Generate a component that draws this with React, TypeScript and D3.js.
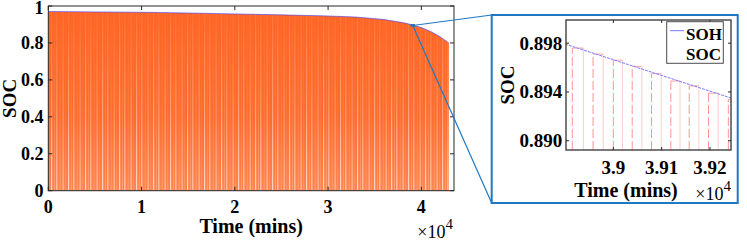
import React from "react";
import * as d3 from "d3";

// SOH envelope (time in minutes)
const sohTime = [0, 5000, 10000, 15000, 20000, 25000, 30000, 33000, 36000, 38000, 39000, 40000, 41000, 42000, 42950];
const sohValue = [0.970, 0.968, 0.966, 0.962, 0.957, 0.952, 0.946, 0.940, 0.927, 0.910, 0.898, 0.883, 0.862, 0.834, 0.800];

const mainXTicks = [0, 10000, 20000, 30000, 40000];
const mainXTickLabels = ["0", "1", "2", "3", "4"];
const mainYTicks = [0, 0.2, 0.4, 0.6, 0.8, 1];
const mainYTickLabels = ["0", "0.2", "0.4", "0.6", "0.8", "1"];

// zoomed window
const insetTime = [38900, 39250];
const insetSoh = [0.89793, 0.89342];
const chargeTime = [38915, 38958, 39000, 39039, 39079, 39119, 39157, 39197, 39238];
const dischargeTime = [38938, 38979, 39019, 39059, 39099, 39138, 39177, 39217, 39258];
const cycleLevel = [0.8976, 0.8971, 0.8966, 0.8961, 0.8955, 0.8949, 0.8945, 0.8939, 0.8934];

const insetXTicks = [39000, 39100, 39200];
const insetXTickLabels = ["3.9", "3.91", "3.92"];
const insetYTicks = [0.890, 0.894, 0.898];
const insetYTickLabels = ["0.890", "0.894", "0.898"];
const legendLabels = ["SOH", "SOC"];

const FONT = "Liberation Serif, Times New Roman, serif";
const AX = "#262626";
const CONNECT = "#1f78c1";

export default function App() {
  // main axes
  const m = { left: 48.3, right: 454, top: 6, bottom: 190.7 };
  const x = d3.scaleLinear().domain([0, 43500]).range([m.left, m.right]);
  const y = d3.scaleLinear().domain([0, 1]).range([m.bottom, m.top]);

  const sohPts = sohTime.map((t, i) => [t, sohValue[i]] as [number, number]);
  const area = d3.area<[number, number]>().x(d => x(d[0])).y0(y(0)).y1(d => y(d[1]))(sohPts) || "";
  const sohLine = d3.line<[number, number]>().x(d => x(d[0])).y(d => y(d[1]))(sohPts) || "";

  // inset axes
  const n = { left: 566, right: 731, top: 20, bottom: 150 };
  const ix = d3.scaleLinear().domain([38902, 39243.5]).range([n.left, n.right]);
  const iy = d3.scaleLinear().domain([0.88924, 0.8999]).range([n.bottom, n.top]);
  const insetLine = d3.line<number>().x((_, i) => ix(insetTime[i])).y(d => iy(d))(insetSoh) || "";

  // zoom marker on main plot
  const zx0 = x(ix.domain()[0]);
  const zx1 = x(ix.domain()[1]);
  const zy0 = y(iy.domain()[1]);
  const zy1 = y(iy.domain()[0]);
  const zcx = (zx0 + zx1) / 2;
  const zcy = (zy0 + zy1) / 2;

  const box = { left: 491.7, right: 737.7, top: 15, bottom: 203 };
  const tf = { fontFamily: FONT };

  return (
    <svg width={747} height={243} style={{ position: "absolute", left: 0, top: 0, background: "#fff", fontFamily: FONT }}>
      <defs>
        <clipPath id="mainClip">
          <path d={area} />
        </clipPath>
        <clipPath id="insetClip">
          <rect x={n.left} y={n.top} width={n.right - n.left} height={n.bottom - n.top} />
        </clipPath>
        <linearGradient id="orangeGrad" x1="0" y1="0" x2="0" y2="1">
          <stop offset="0" stopColor="#ff6524" />
          <stop offset="0.6" stopColor="#ff6d2e" />
          <stop offset="1" stopColor="#ff8650" />
        </linearGradient>
        <linearGradient id="fadeGrad" x1="0" y1="0" x2="0" y2="1">
          <stop offset="0" stopColor="#fff" stopOpacity="0.1" />
          <stop offset="0.5" stopColor="#fff" stopOpacity="0.45" />
          <stop offset="1" stopColor="#fff" stopOpacity="0.95" />
        </linearGradient>
        <mask id="fadeMask">
          <rect x={m.left} y={m.top} width={m.right - m.left} height={m.bottom - m.top} fill="url(#fadeGrad)" />
        </mask>
        <pattern id="stripes" patternUnits="userSpaceOnUse" width={17} height={10}>
          <rect x={0} y={0} width={1.2} height={10} fill="#fff" opacity={0.7} />
          <rect x={3.4} y={0} width={0.6} height={10} fill="#fff" opacity={0.35} />
          <rect x={5.1} y={0} width={1.4} height={10} fill="#fff" opacity={0.5} />
          <rect x={8.8} y={0} width={0.7} height={10} fill="#fff" opacity={0.3} />
          <rect x={11.6} y={0} width={1} height={10} fill="#fff" opacity={0.6} />
          <rect x={14.5} y={0} width={0.5} height={10} fill="#fff" opacity={0.25} />
        </pattern>
      </defs>

      {/* main plot */}
      <rect x={m.left} y={m.top} width={m.right - m.left} height={m.bottom - m.top} fill="#fff" />
      <path d={area} fill="url(#orangeGrad)" />
      <g clipPath="url(#mainClip)">
        <rect x={m.left} y={m.top} width={m.right - m.left} height={m.bottom - m.top} fill="url(#stripes)" mask="url(#fadeMask)" />
      </g>
      <path d={sohLine} fill="none" stroke="#3333ff" strokeWidth={1} opacity={0.55} />

      <rect x={m.left} y={m.top} width={m.right - m.left} height={m.bottom - m.top} fill="none" stroke={AX} strokeWidth={1} />
      {mainXTicks.map((t, i) => (
        <g key={"mx" + i}>
          <line x1={x(t)} x2={x(t)} y1={m.bottom} y2={m.bottom - 4} stroke={AX} />
          <line x1={x(t)} x2={x(t)} y1={m.top} y2={m.top + 4} stroke={AX} />
          <text style={tf} x={x(t)} y={213} textAnchor="middle" fontSize={18} fontWeight="bold" fill="#000">{mainXTickLabels[i]}</text>
        </g>
      ))}
      {mainYTicks.map((v, i) => (
        <g key={"my" + i}>
          <line x1={m.left} x2={m.left + 4} y1={y(v)} y2={y(v)} stroke={AX} />
          <line x1={m.right} x2={m.right - 4} y1={y(v)} y2={y(v)} stroke={AX} />
          <text style={tf} x={43.5} y={y(v) + (i === mainYTicks.length - 1 ? 7.5 : 6)} textAnchor="end" fontSize={18} fontWeight="bold" fill="#000">{mainYTickLabels[i]}</text>
        </g>
      ))}
      <text style={tf} x={(m.left + m.right) / 2} y={233} textAnchor="middle" fontSize={20} fontWeight="bold">Time (mins)</text>
      <text style={tf} transform={`translate(16,${(m.top + m.bottom) / 2}) rotate(-90)`} textAnchor="middle" fontSize={19} fontWeight="bold">SOC</text>
      <text style={tf} x={m.right - 1} y={238} textAnchor="end" fontSize={18}>
        ×10<tspan fontSize={15} dy={-9}>4</tspan>
      </text>

      {/* zoom marker and connectors */}
      <rect x={zx0} y={zy0} width={zx1 - zx0} height={zy1 - zy0} fill="none" stroke={CONNECT} strokeWidth={1} />
      <line x1={zcx} y1={zcy} x2={box.left} y2={box.top} stroke={CONNECT} strokeWidth={1.2} />
      <line x1={zcx} y1={zcy} x2={box.left} y2={box.bottom} stroke={CONNECT} strokeWidth={1.2} />

      {/* inset box */}
      <rect x={box.left} y={box.top} width={box.right - box.left} height={box.bottom - box.top} fill="#fff" stroke={CONNECT} strokeWidth={2} />

      {/* inset plot */}
      <g clipPath="url(#insetClip)">
        {chargeTime.map((t, i) => (
          <g key={"c" + i}>
            <line x1={ix(t)} x2={ix(t)} y1={n.bottom} y2={iy(cycleLevel[i])} stroke="#ff3b3b" strokeOpacity={0.55} strokeWidth={1} strokeDasharray="9 3" />
            <line x1={ix(t)} x2={ix(dischargeTime[i])} y1={iy(cycleLevel[i])} y2={iy(cycleLevel[i])} stroke="#ff8c8c" strokeWidth={1} strokeOpacity={0.8} />
            <line x1={ix(dischargeTime[i])} x2={ix(dischargeTime[i])} y1={iy(cycleLevel[i])} y2={n.bottom} stroke="#ffc0c0" strokeWidth={1} strokeOpacity={0.8} />
          </g>
        ))}
        <path d={insetLine} fill="none" stroke="#7a7aff" strokeWidth={1} strokeDasharray="3 1" />
      </g>
      <rect x={n.left} y={n.top} width={n.right - n.left} height={n.bottom - n.top} fill="none" stroke="#4d4d4d" strokeWidth={1.5} />
      {insetXTicks.map((t, i) => (
        <g key={"ix" + i}>
          <line x1={ix(t)} x2={ix(t)} y1={n.bottom} y2={n.bottom - 3} stroke={AX} />
          <line x1={ix(t)} x2={ix(t)} y1={n.top} y2={n.top + 3} stroke={AX} />
          <text style={tf} x={ix(t)} y={173.5} textAnchor="middle" fontSize={19} fontWeight="bold">{insetXTickLabels[i]}</text>
        </g>
      ))}
      {insetYTicks.map((v, i) => (
        <g key={"iy" + i}>
          <line x1={n.left} x2={n.left + 3} y1={iy(v)} y2={iy(v)} stroke={AX} />
          <line x1={n.right} x2={n.right - 3} y1={iy(v)} y2={iy(v)} stroke={AX} />
          <text style={tf} x={562.3} y={iy(v) + 6.5} textAnchor="end" fontSize={19} fontWeight="bold">{insetYTickLabels[i]}</text>
        </g>
      ))}
      <text style={tf} transform={`translate(514,${(n.top + n.bottom) / 2}) rotate(-90)`} textAnchor="middle" fontSize={19} fontWeight="bold">SOC</text>
      <text style={tf} x={626} y={197} textAnchor="middle" fontSize={20} fontWeight="bold">Time (mins)</text>
      <text style={tf} x={n.right} y={200} textAnchor="end" fontSize={18}>
        ×10<tspan fontSize={15} dy={-9}>4</tspan>
      </text>

      {/* legend */}
      <rect x={666.7} y={21.7} width={56.6} height={41.6} fill="#fff" stroke="#4d4d4d" strokeWidth={1} />
      {legendLabels.map((lab, i) => (
        <g key={"lg" + i}>
          {i === 0 && <line x1={670} x2={684} y1={30.7} y2={30.7} stroke="#7a7aff" strokeWidth={1} />}
          <text style={tf} x={686} y={40 + i * 20} fontSize={17} fontWeight="bold">{lab}</text>
        </g>
      ))}
    </svg>
  );
}
